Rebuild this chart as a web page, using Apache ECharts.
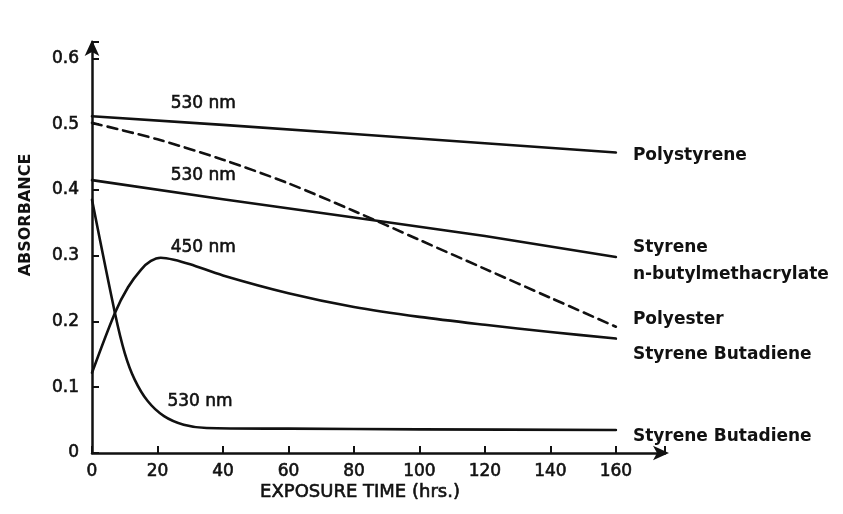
<!DOCTYPE html>
<html><head><meta charset="utf-8">
<script src="https://cdn.jsdelivr.net/npm/echarts@6/dist/echarts.min.js"></script>
<style>html,body{margin:0;padding:0;background:#fff}#c{width:843px;height:514px}</style>
</head><body><div id="c"></div>
<script>
// Data (x = exposure time in hrs, y = absorbance)
const polystyrene = [[0,0.512],[40,0.499],[80,0.485],[120,0.471],[160,0.457]];
const styreneNBMA = [[0,0.415],[40,0.386],[80,0.358],[120,0.330],[160,0.298]];
const polyester = [[0,0.502],[20,0.477],[40,0.446],[60,0.410],[80,0.368],[100,0.324],[120,0.280],[140,0.236],[160,0.192]];
const sb450 = [[0,0.122],[7,0.213],[11,0.252],[15,0.279],[18,0.292],[21,0.297],[25,0.294],[30,0.287],[40,0.270],[60,0.243],[80,0.222],[100,0.207],[120,0.195],[140,0.184],[160,0.174]];
const sb530 = [[0,0.385],[7,0.213],[10,0.152],[13,0.112],[17,0.079],[22,0.056],[28,0.043],[35,0.038],[60,0.037],[100,0.036],[160,0.035]];
const seriesNames = ['Polystyrene','Styrene\nn-butylmethacrylate','Polyester','Styrene Butadiene','Styrene Butadiene'];
const annotations = [[34,0.532,'530 nm'],[34,0.422,'530 nm'],[34,0.312,'450 nm'],[33,0.078,'530 nm']];
const xTicks = [0,20,40,60,80,100,120,140,160];
const yTicks = [0,0.1,0.2,0.3,0.4,0.5,0.6];

const FONT = 'DejaVu Sans';
const INK = '#111';
const chart = echarts.init(document.getElementById('c'), null, {renderer:'canvas'});
function lineSeries(data, name, dy, dashed, smooth){
  return {
    type:'line', data, smooth: smooth, showSymbol:false, symbol:'none',
    lineStyle:{color:INK, width:2.6, type: dashed ? [10,6] : 'solid', cap:'round', join:'round'},
    endLabel:{show:true, formatter:name, distance:17, offset:[0,dy], color:INK,
      fontFamily:FONT, fontWeight:'bold', fontSize:17, lineHeight:27, align:'left'},
    silent:true, animation:false
  };
}
const numStyle = {color:INK, fontFamily:FONT, fontSize:17, textBorderColor:INK, textBorderWidth:0.6};
const option = {
  animation:false,
  grid:{left:92, right:178, top:42, bottom:61},
  xAxis:{type:'value', min:0, max:175, interval:20,
    axisLine:{show:true, lineStyle:{color:INK, width:2.5}, symbol:['none','arrow'], symbolSize:[11,16], symbolOffset:[0,4]},
    axisTick:{show:true, inside:true, length:7, lineStyle:{color:INK, width:2}},
    axisLabel:Object.assign({margin:10, formatter:v => xTicks.includes(v) ? String(v) : ''}, numStyle),
    splitLine:{show:false}},
  yAxis:{type:'value', min:0, max:0.625, interval:0.1,
    axisLine:{show:true, lineStyle:{color:INK, width:2.5}, symbol:['none','arrow'], symbolSize:[11,16], symbolOffset:[0,2]},
    axisTick:{show:true, inside:true, length:7, lineStyle:{color:INK, width:2}},
    axisLabel:Object.assign({margin:13, formatter:v => { const t = yTicks.find(y => Math.abs(y-v)<1e-6); return t===undefined ? '' : (t===0?'0':t.toFixed(1)); }}, numStyle),
    splitLine:{show:false}},
  graphic:[
    {type:'text', x:26, y:215, rotation:Math.PI/2, style:{text:'ABSORBANCE', fill:INK, font:'bold 16px "DejaVu Sans"', textAlign:'center', textVerticalAlign:'middle'}},
    {type:'text', x:360, y:492, style:{text:'EXPOSURE TIME (hrs.)', fill:INK, font:'18px "DejaVu Sans"', stroke:INK, lineWidth:0.6, textAlign:'center', textVerticalAlign:'middle'}}
  ],
  series:[
    lineSeries(polystyrene, seriesNames[0], 3, false, false),
    lineSeries(styreneNBMA, seriesNames[1], 4, false, false),
    lineSeries(polyester, seriesNames[2], -7, true, 0.3),
    lineSeries(sb450, seriesNames[3], 16, false, 0.3),
    lineSeries(sb530, seriesNames[4], 7, false, 0.3),
    {type:'scatter', data:annotations.map(a=>[a[0],a[1],a[2]]), symbolSize:0, silent:true,
      itemStyle:{opacity:1},
      label:Object.assign({show:true, position:'inside', opacity:1, formatter:p=>p.data[2]}, numStyle)}
  ]
};
chart.setOption(option);
</script></body></html>
